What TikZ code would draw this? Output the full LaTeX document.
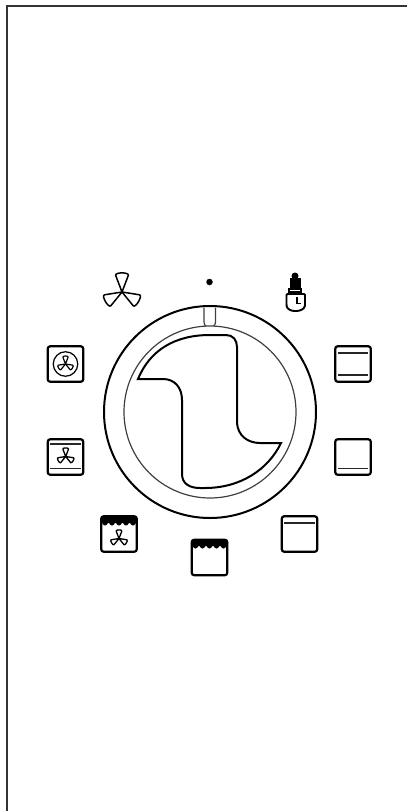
\documentclass[tikz,border=0pt]{standalone}
\usepackage{tikz}
\usetikzlibrary{positioning}

\begin{document}
\begin{tikzpicture}[
    x=1pt, y=-1pt,
    ovenbox/.style={
        draw,
        rounded corners=2.5pt,
        line width=2.2pt,
        minimum width=35.5pt,
        minimum height=35.5pt,
        inner sep=0pt
    },
    elementline/.style={line width=1.5pt, black!85},
    dialline/.style={line width=2pt},
    fan/.pic={
        \foreach \ang in {0,120,240} {
            \draw[rotate=\ang, line join=round]
                (0,0) -- (-6.3,-16.5) .. controls (-7.5,-20) and (7.5,-20) .. (6.3,-16.5) -- cycle;
        }
    }
]
\useasboundingbox (0,0) rectangle (407,811);
\draw[line width=2pt, black!80] (407,6) -- (7,6) -- (7,811);

% dial
\node[circle, draw, line width=2pt, minimum size=212pt, inner sep=0pt] (dial) at (210,412) {};
\node[circle, draw, line width=1.2pt, black!75, minimum size=172pt, inner sep=0pt] (ring) at (210,412) {};
\draw[line width=1.2pt, black!75] (204,307.5) -- (204,322) .. controls (204.5,325) .. (206,326);
\draw[line width=1.2pt, black!75] (215.5,307.5) -- (215.5,322) .. controls (215,325) .. (213.5,326);

% knob
\draw[dialline, line join=miter] (138,379)
    .. controls (150,350) and (175,335) .. (210,335)
    -- (226,335) .. controls (233,335) and (237,340) .. (237,347)
    -- (237,423) .. controls (238,436) and (248,443) .. (260,443)
    -- (281,443)
    .. controls (268,470) and (240,488) .. (205,488)
    -- (200,488) .. controls (190,488) and (182,484) .. (182,474)
    -- (182,400) .. controls (182,388) and (175,379) .. (163,379)
    -- cycle;

% top symbols
\pic[line width=1.5pt] at (122,292) {fan};
\node[circle, fill, inner sep=0pt, minimum size=6.5pt] (dot) at (209.5,282) {};

% lamp
\fill (295,276) circle (3.5pt);
\fill (289.5,278) rectangle (300.5,288);
\fill (288,288) rectangle (302,294.5);
\draw[white, line width=.7pt] (290,290.5) -- (300,290.5);
\draw[line width=1.9pt, rounded corners=1pt] (286.5,294) -- (286.5,305)
    .. controls (287,309) and (291,311) .. (295.5,311)
    .. controls (300,311) and (304.5,309) .. (305,305) -- (305,294) -- cycle;
\draw[line width=1.4pt] (297,297) -- (297,303.5) -- (301,303.5);

% boxes on the left
\node[ovenbox] (fanring) at (65.5,364) {};
\node[circle, draw, line width=1.2pt, minimum size=24.5pt, inner sep=0pt] (fancircle) at (65.5,364) {};
\pic[line width=1.2pt, scale=.42] at (65.5,364) {fan};

\node[ovenbox] (bothfan) at (65.5,457) {};
\draw[elementline] (50,444) -- (81,444);
\draw[elementline] (50,468.5) -- (81,468.5);
\pic[line width=1.3pt, scale=.45] at (65.7,456.5) {fan};

% grill boxes
\node[ovenbox] (grillfan) at (119,534) {};
\fill[rounded corners=2.5pt] (100.5,516) -- (137.5,516) -- (137.5,523) -- (100.5,523) -- cycle;
\foreach \sx in {101.5,108.5,115.5,122.5,129.5} {
    \fill (\sx,522) .. controls (\sx+1,524.5) and (\sx+2.5,525.5) .. (\sx+3.5,525.5)
        .. controls (\sx+4.5,525.5) and (\sx+6,524.5) .. (\sx+7,522) -- cycle;
}
\pic[line width=1.3pt, scale=.45] at (119,538.5) {fan};

\node[ovenbox] (grill) at (209.5,557.5) {};
\fill[rounded corners=2.5pt] (191,539.5) -- (228,539.5) -- (228,546) -- (191,546) -- cycle;
\foreach \sx in {192,199,206,213,220} {
    \fill (\sx,545) .. controls (\sx+1,547.5) and (\sx+2.5,548.5) .. (\sx+3.5,548.5)
        .. controls (\sx+4.5,548.5) and (\sx+6,547.5) .. (\sx+7,545) -- cycle;
}

% boxes on the right
\node[ovenbox] (topel) at (299.5,534) {};
\draw[elementline] (284,523) -- (315,523);

\node[ovenbox] (botel) at (353,457) {};
\draw[elementline] (338,468.5) -- (368,468.5);

\node[ovenbox] (conv) at (353,364) {};
\draw[elementline] (338,353) -- (368,353);
\draw[elementline] (338,375) -- (368,375);
\end{tikzpicture}
\end{document}
